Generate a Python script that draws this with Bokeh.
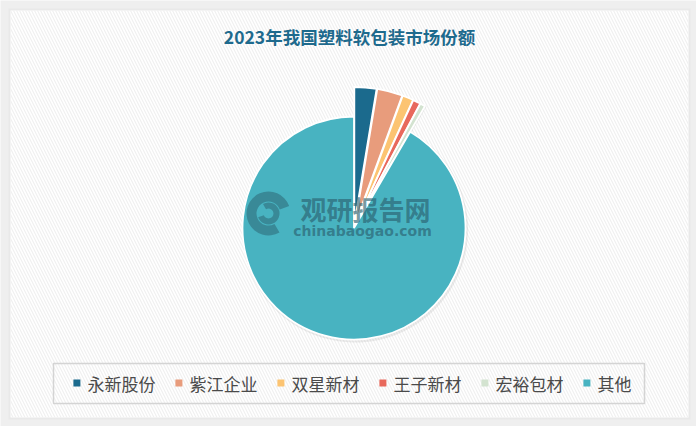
import numpy as np
from bokeh.plotting import figure
from bokeh.models import Range1d
from bokeh.embed import file_html
from bokeh.resources import INLINE
from bokeh.core.properties import value

# ---- data ----
title_text = "2023年我国塑料软包装市场份额"
companies = ["永新股份", "紫江企业", "双星新材", "王子新材", "宏裕包材", "其他"]
shares = [2.6, 3.0, 1.3, 0.9, 0.6, 91.6]
colors = ["#1b6a8d", "#e89c7c", "#fcc472", "#e8695c", "#d3e3d0", "#48b3c1"]
exploded = [True, True, True, True, True, False]

W, H = 696, 426
FONT = "Noto Sans CJK SC"

p = figure(width=W, height=H, x_range=Range1d(0, W), y_range=Range1d(0, H),
           output_backend="svg", toolbar_location=None, min_border=0)
p.axis.visible = False
p.grid.visible = False
p.outline_line_color = None
p.background_fill_color = "#efefef"
p.border_fill_color = "#efefef"

# card with faint hatch (soft shadow first)
p.quad(left=8, right=690, bottom=7, top=418, fill_color="#e4e4e4", line_color=None, fill_alpha=0.6)
p.quad(left=10, right=688, bottom=9, top=416, fill_color="white", line_color=None,
       hatch_pattern="left_diagonal_line", hatch_color="#f0f0f0", hatch_scale=6, hatch_weight=1.2)

# title
p.text(x=[349], y=[390.5], text=[title_text], text_font=value(FONT), text_font_style="bold",
       text_font_size="17.5px", text_color="#1e6a8d", text_align="center", text_baseline="middle")

# pie geometry
cx, cy, R = 353.5, 198.5, 111.5
R_exp, d_exp = 137.0, 4.0
vals = np.array(shares, dtype=float)
cum = np.cumsum(vals)
a1 = 2 * np.pi * cum / vals.sum()
a0 = np.concatenate([[0.0], a1[:-1]])
mid = (a0 + a1) / 2
ex = np.array(exploded)
xs = cx + np.where(ex, d_exp * np.sin(mid), 0.0)
ys = cy + np.where(ex, d_exp * np.cos(mid), 0.0)
rs = np.where(ex, R_exp, R)
starts = np.pi / 2 - a0
ends = np.pi / 2 - a1

# soft shadows
p.wedge(x=xs + 1.0, y=ys - 1.5, radius=rs + 1.5, start_angle=starts, end_angle=ends,
        direction="clock", fill_color="#999999", fill_alpha=0.18, line_color=None)

p.wedge(x=xs, y=ys, radius=rs, start_angle=starts, end_angle=ends, direction="clock",
        fill_color=colors, line_color="white", line_width=1.8)

# watermark
wm = "#2a5f6e"
p.annular_wedge(x=[268, 268], y=[213, 213], inner_radius=[12, 5], outer_radius=[22, 11],
                start_angle=[np.radians(20), np.radians(200)], end_angle=[np.radians(300), np.radians(120)],
                fill_color=wm, fill_alpha=0.5, line_color=None)
p.text(x=[365], y=[218], text=["观研报告网"], text_font=value(FONT), text_font_style="bold",
       text_font_size="26px", text_color=wm, text_alpha=0.65, text_align="center", text_baseline="middle")
p.text(x=[362], y=[196], text=["chinabaogao.com"], text_font=value("DejaVu Sans"),
       text_font_style="bold", text_font_size="14px", text_color=wm, text_alpha=0.65,
       text_align="center", text_baseline="middle")

# legend
p.quad(left=53, right=644, bottom=23, top=63, fill_color=None, line_color="#d4d4d4", line_width=1.5)
lx = []
x = 76.4
for name in companies:
    lx.append(x)
    x += 17 * len(name) + 34
lx = np.array(lx)
ly = np.full(len(companies), 43.5)
p.rect(x=lx, y=ly, width=7, height=7, fill_color=colors, line_color=None)
p.text(x=lx + 10.5, y=ly, text=companies, text_font=value(FONT), text_font_size="17px",
       text_color="#4a4a4a", text_align="left", text_baseline="middle")

html = file_html(p, INLINE)
html = html.replace("<body>", '<body style="background:#efefef;margin:0;">', 1)
open("out.html", "w").write(html)
